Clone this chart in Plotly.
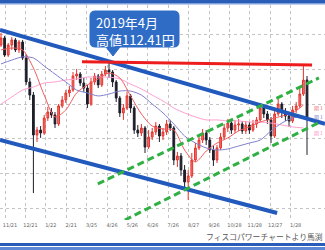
import plotly.graph_objects as go

W, H = 325, 250
PLOT_TOP, PLOT_BOT = 5, 220

# ---- data (USD/JPY, 4-business-day bars, Nov 2018 - Mar 2020) ----
opens = [113.37, 113.77, 112.80, 113.37, 113.66, 113.09, 113.54, 112.63, 111.26, 110.51,
         108.23, 108.51, 108.34, 109.20, 109.54, 109.37, 108.86, 109.89, 110.23, 110.63,
         110.80, 111.60, 111.71, 111.20, 110.91, 110.00, 111.26, 111.60, 111.09, 111.71,
         111.94, 111.83, 111.26, 110.34, 109.49, 109.77, 110.46, 109.77, 108.51, 108.34,
         108.63, 107.54, 108.11, 108.40, 108.74, 108.17, 108.40, 108.86, 108.63, 106.80,
         107.03, 106.23, 105.54, 105.89, 106.80, 107.49, 107.94, 108.34, 107.94, 107.37,
         106.80, 107.49, 108.11, 108.63, 108.91, 108.51, 108.80, 108.86, 108.46, 108.80,
         108.51, 108.86, 109.09, 109.77, 109.43, 109.09, 108.17, 109.43, 110.00, 109.54,
         109.31, 109.03, 109.66, 109.89, 110.57, 111.37]
highs = [114.06, 113.89, 113.49, 113.83, 113.77, 113.66, 113.66, 112.80, 111.49, 110.69,
         108.69, 108.74, 109.37, 109.83, 109.77, 109.54, 110.00, 110.46, 110.80, 111.03,
         111.83, 112.00, 111.83, 111.49, 111.09, 111.49, 111.77, 111.71, 111.89, 112.17,
         112.41, 111.94, 111.37, 110.46, 110.00, 110.69, 110.57, 109.89, 108.80, 108.86,
         108.74, 108.51, 108.63, 108.97, 108.86, 108.63, 109.09, 109.09, 108.74, 107.26,
         107.20, 106.51, 106.23, 107.20, 107.77, 108.17, 108.57, 108.51, 108.11, 107.60,
         107.66, 108.34, 108.86, 109.14, 109.09, 109.09, 109.14, 109.03, 109.03, 108.97,
         109.09, 109.26, 110.06, 109.94, 109.60, 109.26, 109.66, 110.29, 110.11, 109.77,
         109.54, 109.89, 110.11, 110.91, 112.17, 111.60]
lows = [113.26, 112.69, 112.69, 113.09, 112.97, 112.91, 112.51, 111.09, 110.23, 104.91,
        107.83, 108.06, 108.23, 109.03, 109.20, 108.63, 108.74, 109.77, 110.06, 110.40,
        110.69, 111.37, 111.03, 110.69, 109.77, 109.89, 111.09, 110.91, 110.97, 111.60,
        111.49, 110.97, 110.11, 109.26, 109.09, 109.66, 109.49, 108.29, 108.11, 108.17,
        107.20, 107.43, 107.94, 108.23, 107.83, 107.94, 108.23, 108.46, 106.51, 106.40,
        105.89, 105.09, 104.51, 105.77, 106.69, 107.37, 107.77, 107.66, 107.20, 106.46,
        106.63, 107.37, 107.94, 108.40, 108.29, 108.34, 108.46, 108.29, 108.29, 108.29,
        108.40, 108.63, 108.97, 109.20, 108.86, 107.77, 108.06, 109.31, 109.20, 109.03,
        108.69, 108.91, 109.49, 109.77, 110.46, 107.09]
closes = [113.77, 112.80, 113.37, 113.66, 113.09, 113.54, 112.63, 111.26, 110.51, 108.23,
          108.51, 108.34, 109.20, 109.54, 109.37, 108.86, 109.89, 110.23, 110.63, 110.80,
          111.60, 111.71, 111.20, 110.91, 110.00, 111.26, 111.60, 111.09, 111.71, 111.94,
          111.83, 111.26, 110.34, 109.49, 109.77, 110.46, 109.77, 108.51, 108.34, 108.63,
          107.54, 108.11, 108.40, 108.74, 108.17, 108.40, 108.86, 108.63, 106.80, 107.03,
          106.23, 105.54, 105.89, 106.80, 107.49, 107.94, 108.34, 107.94, 107.37, 106.80,
          107.49, 108.11, 108.63, 108.91, 108.51, 108.80, 108.86, 108.46, 108.80, 108.51,
          108.86, 109.09, 109.77, 109.43, 109.09, 108.17, 109.43, 110.00, 109.54, 109.31,
          109.03, 109.66, 109.89, 110.57, 111.37, 109.20]

# moving averages, sampled every 3rd bar
MA_STEP = 3
ma_short = [113.09, 113.20, 113.09, 112.06, 110.51, 109.26, 109.66, 110.63, 111.09, 111.43,
            111.77, 111.49, 110.46, 109.43, 108.74, 108.57, 108.51, 107.37, 106.69, 107.31,
            107.77, 108.06, 108.46, 108.69, 108.97, 109.14, 109.31, 109.49, 109.94]
ma_mid = [112.29, 112.51, 112.69, 112.63, 112.17, 111.71, 111.26, 110.80, 110.63, 110.46,
          110.57, 110.74, 110.74, 110.51, 110.00, 109.49, 108.86, 108.17, 107.77, 107.49,
          107.37, 107.43, 107.60, 107.77, 107.94, 108.46, 108.91, 109.20, 109.31]
ma_long = [110.00, 110.40, 110.80, 110.97, 111.20, 111.26, 111.37, 111.43, 111.54, 111.54,
           111.54, 111.43, 111.14, 110.86, 110.51, 110.17, 109.77, 109.49, 109.26, 109.09,
           109.09, 109.03, 109.03, 108.97, 108.97, 108.91, 108.80, 108.69, 108.63]

tick_labels = ["11/21", "12/21", "1/22", "2/21", "3/25", "4/26", "5/26", "6/26",
               "7/26", "8/27", "9/26", "10/28", "11/28", "12/27", "1/28"]

# trend lines: (bar index, price) endpoints
high_line_x, high_line_y = [22.5, 86.4], [112.41, 112.23]
blue_up_x, blue_up_y = [-0.28, 90.0], [114.23, 108.86]
blue_dn_x, blue_dn_y = [-0.28, 76.7], [107.94, 103.77]
green_up_x, green_up_y = [26.9, 88.3], [105.43, 111.49]
green_dn_x, green_dn_y = [34.4, 88.6], [103.37, 108.97]

X_RANGE = [-0.278, 90.0]
Y_RANGE = [103.371, 115.657]
TICK0, DTICK = 1.111, 5.667

idx = list(range(len(closes)))
ma_x = [i * MA_STEP for i in range(len(ma_short))]

fig = go.Figure()

for vals, col in [(ma_long, "#ff9fcf"), (ma_mid, "#7f7fd0"), (ma_short, "#f05a5a")]:
    fig.add_trace(go.Scatter(x=ma_x, y=vals, mode="lines",
                             line=dict(color=col, width=1, shape="spline", smoothing=0.8),
                             hoverinfo="skip", showlegend=False))

fig.add_trace(go.Candlestick(
    x=idx, open=opens, high=highs, low=lows, close=closes,
    increasing=dict(line=dict(color="#e4332c", width=1), fillcolor="#f07a72"),
    decreasing=dict(line=dict(color="#1e1e2a", width=1), fillcolor="#1e1e2a"),
    whiskerwidth=0, showlegend=False))

def tl(xs, ys, color, width, dash="solid"):
    fig.add_trace(go.Scatter(x=xs, y=ys, mode="lines",
                             line=dict(color=color, width=width, dash=dash),
                             hoverinfo="skip", showlegend=False))

tl(blue_up_x, blue_up_y, "#2159bd", 4)
tl(blue_dn_x, blue_dn_y, "#2159bd", 4)
tl(green_up_x, green_up_y, "#2fb043", 3, "7px,4px")
tl(green_dn_x, green_dn_y, "#2fb043", 3, "7px,4px")
tl(high_line_x, high_line_y, "#ee1d1d", 3)

# ---- layout helpers (pixel -> paper) ----
def PX(x):
    return x / W

def PY(y):
    return (PLOT_BOT - y) / (PLOT_BOT - PLOT_TOP)

shapes = []
# top / bottom frame bands
shapes.append(dict(type="rect", xref="paper", yref="paper", x0=0, x1=1,
                   y0=PY(0), y1=PY(3), fillcolor="#2a5db8", line_width=0, layer="above"))
shapes.append(dict(type="rect", xref="paper", yref="paper", x0=0, x1=1,
                   y0=PY(3), y1=PY(4.5), fillcolor="#7f9fdc", line_width=0, layer="above"))
shapes.append(dict(type="rect", xref="paper", yref="paper", x0=0, x1=1,
                   y0=PY(243), y1=PY(246), fillcolor="#2a5db8", line_width=0, layer="above"))
shapes.append(dict(type="rect", xref="paper", yref="paper", x0=0, x1=1,
                   y0=PY(247), y1=PY(250), fillcolor="#5f88d4", line_width=0, layer="above"))

# callout box
bx0, bx1, by0, by1, r = 90, 179, 11, 47, 5
tipx, tipy, tw = 113, 56, 7
def p(x, y):
    return f"{PX(x):.5f},{PY(y):.5f}"
path = (f"M {p(bx0 + r, by0)} L {p(bx1 - r, by0)} Q {p(bx1, by0)} {p(bx1, by0 + r)} "
        f"L {p(bx1, by1 - r)} Q {p(bx1, by1)} {p(bx1 - r, by1)} "
        f"L {p(tipx + tw, by1)} L {p(tipx, tipy)} L {p(tipx - tw, by1)} "
        f"L {p(bx0 + r, by1)} Q {p(bx0, by1)} {p(bx0, by1 - r)} "
        f"L {p(bx0, by0 + r)} Q {p(bx0, by0)} {p(bx0 + r, by0)} Z")
shapes.append(dict(type="path", xref="paper", yref="paper", path=path,
                   fillcolor="#2f6cc6", line=dict(color="#2f6cc6", width=1), layer="above"))

annos = []
cjk = "Noto Sans CJK JP"
annos.append(dict(xref="paper", yref="paper", x=PX(94), y=PY(30.5), xanchor="left", yanchor="middle",
                  align="left", text="2019年4月<br>高値112.41円", showarrow=False,
                  font=dict(family=cjk, size=13, color="white")))
annos.append(dict(xref="paper", yref="paper", x=PX(325), y=PY(236), xanchor="right", yanchor="middle",
                  text="フィスコパワーチャートより馬渕", showarrow=False,
                  font=dict(family=cjk, size=7.8, color="#555555")))
for yy, col in [(108, "#f07070"), (117, "#7f7fd0"), (133, "#ff8fc8")]:
    annos.append(dict(xref="paper", yref="paper", x=PX(312), y=PY(yy), xanchor="left", yanchor="middle",
                      text="期 1", showarrow=False, font=dict(family=cjk, size=5, color=col)))

fig.update_layout(
    width=W, height=H, margin=dict(l=0, r=0, t=PLOT_TOP, b=H - PLOT_BOT),
    paper_bgcolor="white", plot_bgcolor="white",
    shapes=shapes, annotations=annos, showlegend=False,
    xaxis=dict(range=X_RANGE, rangeslider=dict(visible=False),
               tickvals=[TICK0 + k * DTICK for k in range(len(tick_labels))],
               ticktext=tick_labels, ticks="", ticklabelshift=5, ticklabelstandoff=1,
               tickfont=dict(family="DejaVu Sans", size=5, color="#666666"),
               showgrid=True, gridcolor="#c4c4c4", griddash="dot", gridwidth=1,
               zeroline=False, showline=False, fixedrange=True),
    yaxis=dict(range=Y_RANGE, tickvals=[104, 106, 108, 110, 112, 114], showticklabels=False,
               showgrid=True, gridcolor="#c4c4c4", griddash="dot", gridwidth=1,
               zeroline=False, showline=False, fixedrange=True),
)

fig.write_html("out.html")
